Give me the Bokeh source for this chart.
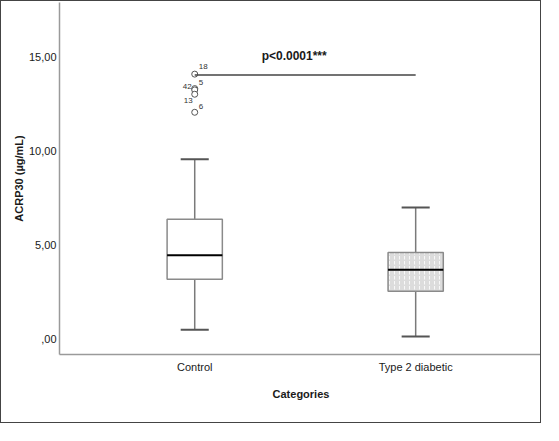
from bokeh.plotting import figure
from bokeh.models import Range1d, FixedTicker, ColumnDataSource
from bokeh.core.properties import value
from bokeh.embed import file_html
from bokeh.resources import INLINE

# ---- data ----
categories = ["Control", "Type 2 diabetic"]
cat_pos = [1, 2]
whisker_low = [0.49, 0.13]
q1 = [3.18, 2.54]
median = [4.46, 3.68]
q3 = [6.37, 4.60]
whisker_high = [9.56, 7.00]

outlier_ids = ["18", "5", "42", "13", "6"]
outlier_vals = [14.09, 13.32, 13.25, 13.02, 12.06]
outlier_cat = [1, 1, 1, 1, 1]

y_ticks = [0, 5, 10, 15]
y_tick_labels = [",00", "5,00", "10,00", "15,00"]

sig_text = "p<0.0001***"
sig_level = 14.05
sig_text_level = 15.06

# ---- styles ----
FONT = "Liberation Sans"
box_w = 0.25
cap_w = 0.127
label_dx = [4, 4, -3, -2, 4]
label_dy = [-8, -6, -3, 6, -6]
label_align = ["left", "left", "right", "right", "left"]

p = figure(width=541, height=423, output_backend="svg", toolbar_location=None,
           x_range=Range1d(0.388, 2.574), y_range=Range1d(-0.824, 17.9),
           min_border_left=58, min_border_right=0, min_border_top=1,
           min_border_bottom=70)
p.styles = {"border": "1px solid #444444"}
p.outline_line_color = None
p.xgrid.visible = False
p.ygrid.visible = False
p.background_fill_color = "white"
p.border_fill_color = "white"

for ax in (p.xaxis[0], p.yaxis[0]):
    ax.axis_line_color = "#9a9a9a"
    ax.axis_line_width = 1.5
    ax.major_tick_line_color = None
    ax.minor_tick_line_color = None
    ax.major_tick_out = 0
    ax.major_tick_in = 0
    ax.minor_tick_out = 0
    ax.minor_tick_in = 0
    ax.major_label_text_font = FONT
    ax.major_label_text_font_size = "11px"
    ax.major_label_text_color = "#1a1a1a"
    ax.axis_label_text_font = FONT
    ax.axis_label_text_font_size = "11px"
    ax.axis_label_text_font_style = "bold"
    ax.axis_label_text_color = "#1a1a1a"

p.xaxis.ticker = FixedTicker(ticks=cat_pos)
p.xaxis.major_label_overrides = {c: l for c, l in zip(cat_pos, categories)}
p.xaxis.axis_label = "Categories"
p.xaxis.major_label_standoff = 6
p.xaxis.axis_label_standoff = 12

p.yaxis.ticker = FixedTicker(ticks=y_ticks)
p.yaxis.major_label_overrides = {t: l for t, l in zip(y_ticks, y_tick_labels)}
p.yaxis.axis_label = "ACRP30 (µg/mL)"
p.yaxis.major_label_standoff = 3
p.yaxis.axis_label_standoff = 1

# whiskers
p.segment(x0=cat_pos, x1=cat_pos, y0=q3, y1=whisker_high, line_color="#7a7a7a", line_width=1.5)
p.segment(x0=cat_pos, x1=cat_pos, y0=whisker_low, y1=q1, line_color="#7a7a7a", line_width=1.5)
p.segment(x0=[c - cap_w / 2 for c in cat_pos], x1=[c + cap_w / 2 for c in cat_pos],
          y0=whisker_high, y1=whisker_high, line_color="#555555", line_width=2)
p.segment(x0=[c - cap_w / 2 for c in cat_pos], x1=[c + cap_w / 2 for c in cat_pos],
          y0=whisker_low, y1=whisker_low, line_color="#555555", line_width=2)

# boxes
p.vbar(x=[cat_pos[0]], width=box_w, bottom=[q1[0]], top=[q3[0]],
       fill_color="white", line_color="#8a8a8a", line_width=1.5)
p.vbar(x=[cat_pos[1]], width=box_w, bottom=[q1[1]], top=[q3[1]],
       fill_color="#dcdcdc", line_color="#8a8a8a", line_width=1.5,
       hatch_pattern="vertical_dash", hatch_color="white", hatch_scale=5, hatch_weight=1,
       hatch_alpha=0.8)
p.segment(x0=[c - box_w / 2 for c in cat_pos], x1=[c + box_w / 2 for c in cat_pos],
          y0=median, y1=median, line_color="black", line_width=2)

# outliers
src = ColumnDataSource(dict(x=outlier_cat, y=outlier_vals, t=outlier_ids,
                            dx=label_dx, dy=label_dy, al=label_align))
p.scatter(x="x", y="y", source=src, marker="circle", size=6,
          fill_color="white", line_color="#555555", line_width=1)
p.text(x="x", y="y", text="t", source=src, x_offset="dx", y_offset="dy",
       text_align="al", text_baseline="middle", text_font=value(FONT),
       text_font_size="8px", text_color="#333333")

# significance annotation
p.line(x=cat_pos, y=[sig_level, sig_level], line_color="#444444", line_width=1.5)
p.text(x=[sum(cat_pos) / 2 - 0.05], y=[sig_text_level], text=[sig_text],
       text_align="center", text_baseline="middle", text_font=value(FONT),
       text_font_size="12px", text_font_style="bold", text_color="#1a1a1a")

open("out.html", "w").write(file_html(p, INLINE))
